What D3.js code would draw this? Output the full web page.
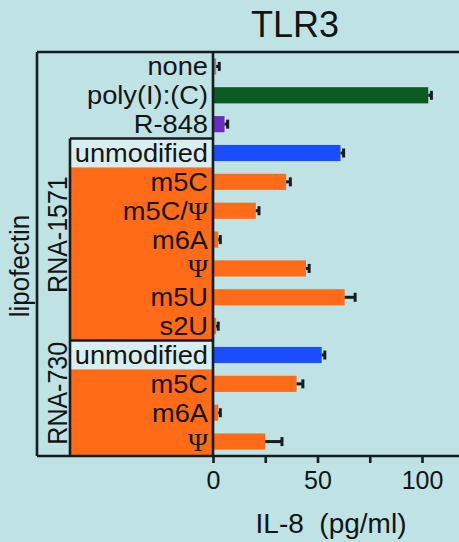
<!DOCTYPE html>
<html>
<head>
<meta charset="utf-8">
<script src="https://cdn.jsdelivr.net/npm/d3@7"></script>
<style>
  html, body { margin: 0; padding: 0; background: #bfe2e5; }
  svg { display: block; }
  text { font-family: "Liberation Sans", Arial, Helvetica, sans-serif; fill: #141414; }
</style>
</head>
<body>
<svg id="chart" width="459" height="542"></svg>
<script>
// IL-8 secretion by TLR3-expressing cells, stimulated with lipofectin complexes
const labels = ["none", "poly(I):(C)", "R-848", "unmodified", "m5C", "m5C/Ψ", "m6A", "Ψ", "m5U", "s2U",
                "unmodified", "m5C", "m6A", "Ψ"];
const il8 = [1.5, 103, 5.5, 61, 35, 20.5, 2.5, 44.5, 63, 1.5, 52, 40, 2.5, 25];
const il8Err = [1.5, 1.5, 1.5, 1.5, 2, 1.5, 1, 1.5, 5, 1, 1.5, 3, 1, 8];
const sampleType = ["none", "polyIC", "R848", "unmod", "mod", "mod", "mod", "mod", "mod", "mod",
                    "unmod", "mod", "mod", "mod"];
const rnaGroups = ["RNA-1571", "RNA-730"];
const rnaGroupFirst = [3, 10];
const rnaGroupLast = [9, 13];
const xTicks = [0, 25, 50, 75, 100];
const xTickLabels = ["0", "", "50", "", "100"];

const typeColor = {
  none: "#8c8c8c",
  polyIC: "#0b5b22",
  R848: "#6a2cc2",
  unmod: "#1a4dff",
  mod: "#ff6b17"
};
const cellFill = { unmod: "#d8eef0", mod: "#ff6b17" };
const ink = "#161c20";

const W = 459, H = 542;
const frameLeft = 37, groupLeft = 70, plotLeft = 213, plotRight = W;
const plotTop = 52, plotBottom = 456;
const stretch = 1.09;   // labels are set slightly wide

const svg = d3.select("#chart");

const x = d3.scaleLinear().domain([0, 100]).range([plotLeft, 422]);
const rowIdx = d3.range(labels.length);
const yCell = d3.scaleBand().domain(rowIdx).range([plotTop, plotBottom]).padding(0);
const yBar = d3.scaleBand().domain(rowIdx).range([plotTop, plotBottom])
  .paddingInner(0.44).paddingOuter(0.22);

// title
svg.append("text")
  .attr("x", 295).attr("y", 37)
  .attr("text-anchor", "middle")
  .style("font-size", "36px")
  .text("TLR3");

// label cells of the RNA groups (light for unmodified, orange for modified);
// each cell overlaps the next by a pixel so no seam shows between them
rnaGroups.forEach((g, gi) => {
  d3.range(rnaGroupFirst[gi], rnaGroupLast[gi] + 1).forEach(i => {
    const extra = i < rnaGroupLast[gi] ? 1 : 0;
    svg.append("rect")
      .attr("x", groupLeft).attr("y", yCell(i))
      .attr("width", plotLeft - groupLeft).attr("height", yCell.bandwidth() + extra)
      .attr("fill", cellFill[sampleType[i]]);
  });
});

// bars
svg.append("g").selectAll("rect")
  .data(rowIdx)
  .join("rect")
  .attr("x", x(0))
  .attr("y", i => yBar(i))
  .attr("width", i => x(il8[i]) - x(0))
  .attr("height", yBar.bandwidth())
  .attr("fill", i => typeColor[sampleType[i]]);

// one-sided error bars
const err = svg.append("g").attr("stroke", ink).attr("stroke-width", 3);
rowIdx.forEach(i => {
  const cy = yBar(i) + yBar.bandwidth() / 2;
  err.append("line")
    .attr("x1", x(il8[i])).attr("x2", x(il8[i] + il8Err[i]))
    .attr("y1", cy).attr("y2", cy);
  err.append("line")
    .attr("x1", x(il8[i] + il8Err[i])).attr("x2", x(il8[i] + il8Err[i]))
    .attr("y1", cy - 4.5).attr("y2", cy + 4.5);
});

// row labels, Ψ set in a serif face
const rowLabels = svg.append("g").style("font-size", "25px");
rowIdx.forEach(i => {
  const cy = yCell(i) + yCell.bandwidth() / 2;
  const t = rowLabels.append("text")
    .attr("transform", `translate(208,${cy + 9}) scale(${stretch},1)`)
    .attr("text-anchor", "end");
  labels[i].split(/(Ψ)/).filter(s => s.length).forEach(part => {
    const ts = t.append("tspan").text(part);
    if (part === "Ψ") ts.style("font-family", "'Liberation Serif', 'Times New Roman', serif");
  });
});

// group labels (rotated)
rnaGroups.forEach((g, gi) => {
  const cy = (yCell(rnaGroupFirst[gi]) + yCell(rnaGroupLast[gi]) + yCell.bandwidth()) / 2;
  svg.append("text")
    .attr("transform", `translate(67,${cy - 5}) scale(${stretch},1) rotate(-90)`)
    .attr("text-anchor", "middle")
    .style("font-size", "25px")
    .text(g);
});

svg.append("text")
  .attr("transform", `translate(29,266) scale(${stretch},1) rotate(-90)`)
  .attr("text-anchor", "middle")
  .style("font-size", "26px")
  .text("lipofectin");

// frame lines
const frame = svg.append("g").attr("stroke", ink).attr("stroke-width", 2.6).attr("fill", "none");
frame.append("line").attr("x1", frameLeft).attr("x2", plotRight).attr("y1", plotTop).attr("y2", plotTop);
frame.append("line").attr("x1", frameLeft).attr("x2", plotRight).attr("y1", plotBottom).attr("y2", plotBottom);
frame.append("line").attr("x1", frameLeft).attr("x2", frameLeft).attr("y1", plotTop).attr("y2", plotBottom);
frame.append("line").attr("x1", plotLeft).attr("x2", plotLeft).attr("y1", plotTop).attr("y2", plotBottom);
rnaGroups.forEach((g, gi) => {
  const yTop = yCell(rnaGroupFirst[gi]);
  frame.append("line").attr("x1", groupLeft).attr("x2", plotLeft).attr("y1", yTop).attr("y2", yTop);
});
frame.append("line").attr("x1", groupLeft).attr("x2", groupLeft)
  .attr("y1", yCell(rnaGroupFirst[0])).attr("y2", plotBottom);

// x axis
const xAxis = d3.axisBottom(x)
  .tickValues(xTicks)
  .tickFormat((d, i) => xTickLabels[i])
  .tickSize(7)
  .tickSizeOuter(0)
  .tickPadding(8);
const gx = svg.append("g").attr("transform", `translate(0,${plotBottom})`).call(xAxis);
gx.select(".domain").remove();
gx.selectAll(".tick line").attr("stroke", ink).attr("stroke-width", 2.6);
gx.selectAll(".tick text")
  .attr("fill", "#141414")
  .style("font-size", "25px")
  .style("font-family", "'Liberation Sans', Arial, sans-serif");

svg.append("text")
  .attr("x", 331).attr("y", 533)
  .attr("text-anchor", "middle")
  .style("font-size", "28px")
  .style("white-space", "pre")
  .text("IL-8  (pg/ml)");
</script>
</body>
</html>
